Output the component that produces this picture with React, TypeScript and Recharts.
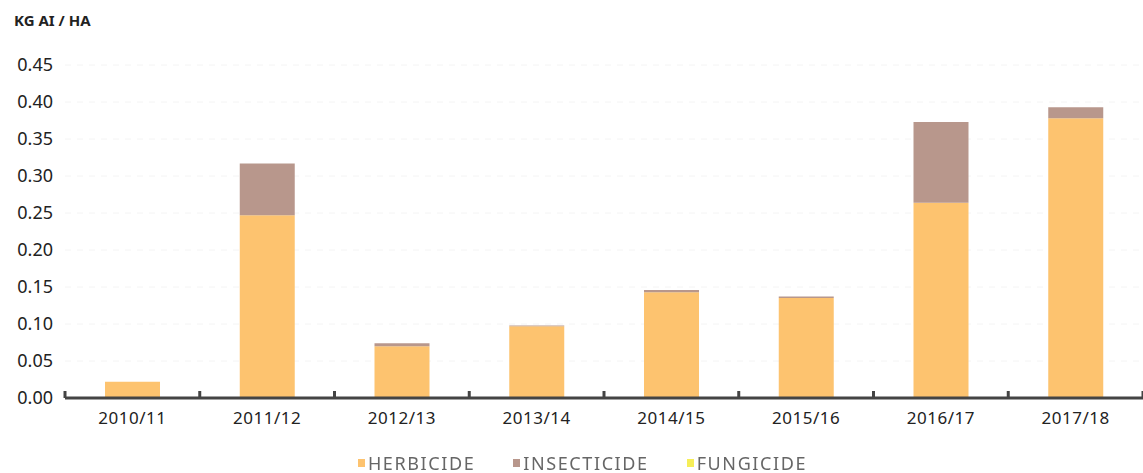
import { BarChart, Bar, XAxis, YAxis, CartesianGrid, Legend } from "recharts"

const years = ["2010/11", "2011/12", "2012/13", "2013/14", "2014/15", "2015/16", "2016/17", "2017/18"]
const herbicide = [0.022, 0.247, 0.07, 0.097, 0.143, 0.135, 0.264, 0.378]
const insecticide = [0.0, 0.07, 0.004, 0.001, 0.003, 0.002, 0.109, 0.015]
const fungicide = [0, 0, 0, 0, 0, 0, 0, 0]
const yTicks = [0, 0.05, 0.1, 0.15, 0.2, 0.25, 0.3, 0.35, 0.4, 0.45]

const colors = { herbicide: "#FDC36F", insecticide: "#B8978C", fungicide: "#F6EE58" }
const font = "'Noto Sans', sans-serif"

const chartData = years.map((year, i) => ({
  year,
  herbicide: herbicide[i],
  insecticide: insecticide[i],
  fungicide: fungicide[i],
}))

const W = 1143
const H = 473
const LEFT = 65
const bandWidth = (W - LEFT) / years.length

function XTick(props: any) {
  const { x, y, payload, index } = props
  const left = x - bandWidth / 2
  return (
    <g>
      <line x1={left} y1={y - 7} x2={left} y2={y} stroke="#444" strokeWidth={3} />
      {index === years.length - 1 && (
        <line x1={x + bandWidth / 2} y1={y - 7} x2={x + bandWidth / 2} y2={y} stroke="#444" strokeWidth={3} />
      )}
      <text x={x} y={y + 26} textAnchor="middle" fill="#222" fontSize={17} letterSpacing={0.5} fontFamily={font}>
        {payload.value}
      </text>
    </g>
  )
}

function LegendContent() {
  const items = [
    { key: "herbicide", label: "HERBICIDE" },
    { key: "insecticide", label: "INSECTICIDE" },
    { key: "fungicide", label: "FUNGICIDE" },
  ]
  return (
    <div style={{ display: "flex", justifyContent: "center", gap: 38, fontFamily: font, paddingLeft: 22 }}>
      {items.map((it) => (
        <span key={it.key} style={{ display: "flex", alignItems: "center", color: "#666", fontSize: 18, letterSpacing: 1.6 }}>
          <span style={{ width: 7, height: 8, background: (colors as any)[it.key], marginRight: 3, display: "inline-block" }} />
          {it.label}
        </span>
      ))}
    </div>
  )
}

export default function App() {
  return (
    <div style={{ position: "fixed", left: 0, top: 0, width: W, height: H, background: "#fff" }}>
      <div style={{ position: "absolute", left: 14, top: 10, fontFamily: font, fontWeight: 700, fontSize: 15, color: "#222" }}>
        KG AI / HA
      </div>
      <BarChart width={W} height={H} data={chartData} margin={{ top: 65, right: 0, left: 0, bottom: 8 }} barSize={55}>
        <CartesianGrid vertical={false} stroke="#f4f4f4" strokeDasharray="6 6" />
        <XAxis
          dataKey="year"
          tick={<XTick />}
          tickLine={false}
          tickSize={0}
          tickMargin={0}
          axisLine={{ stroke: "#444", strokeWidth: 3 }}
          height={43}
          interval={0}
        />
        <YAxis
          domain={[0, 0.45]}
          ticks={yTicks}
          tickFormatter={(v: number) => v.toFixed(2)}
          width={LEFT}
          tickLine={false}
          tickSize={0}
          tickMargin={12}
          axisLine={false}
          tick={{ fill: "#222", fontSize: 18, fontFamily: font }}
          interval={0}
        />
        <Legend verticalAlign="bottom" content={<LegendContent />} wrapperStyle={{ bottom: -2 }} />
        <Bar dataKey="herbicide" stackId="a" fill={colors.herbicide} isAnimationActive={false} />
        <Bar dataKey="insecticide" stackId="a" fill={colors.insecticide} isAnimationActive={false} />
        <Bar dataKey="fungicide" stackId="a" fill={colors.fungicide} isAnimationActive={false} />
      </BarChart>
    </div>
  )
}
